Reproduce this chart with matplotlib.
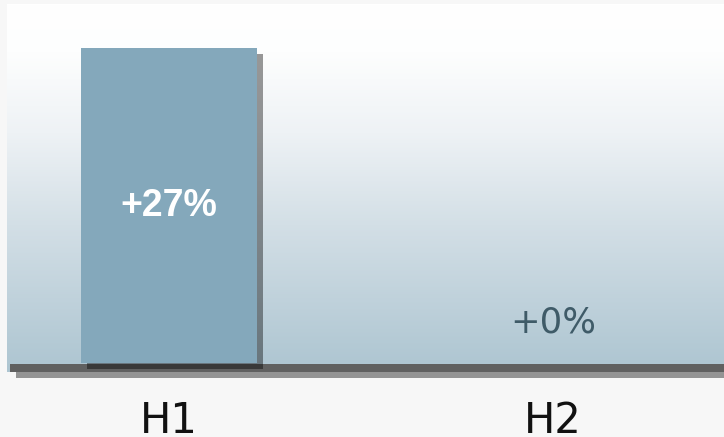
import numpy as np
import matplotlib
matplotlib.use("Agg")
import matplotlib.pyplot as plt
import matplotlib.patheffects as pe
from matplotlib.colors import LinearSegmentedColormap

# half-year growth
periods = ["H1", "H2"]
growth = [27, 0]
labels = ["+27%", "+0%"]

W, H = 724, 437
fig = plt.figure(figsize=(W / 100, H / 100), dpi=100, facecolor="#f7f7f7")
ax = fig.add_axes([7 / W, (H - 372) / H, 717 / W, 368 / H])

# data limits : category spacing 384 px, 27 units = 315 px
xlim = (-162 / 384, 555 / 384)
ylim = (-9 * 27 / 315, 359 * 27 / 315)

# background gradient white (top) -> pale blue (bottom)
grad = LinearSegmentedColormap.from_list(
    "bg", [(0, "#ffffff"), (0.13, "#fdfefe"), (0.35, "#eef2f5"),
           (0.6, "#d3dfe6"), (1, "#adc5d1")])
g = np.linspace(1, 0, 256).reshape(-1, 1)
ax.imshow(g, cmap=grad, aspect="auto", extent=(xlim[0], xlim[1], ylim[0], ylim[1]),
          origin="lower", zorder=0)
ax.set_xlim(*xlim)
ax.set_ylim(*ylim)

shadow = [pe.SimplePatchShadow(offset=(4.3, -4.3), shadow_rgbFace="k", alpha=0.4), pe.Normal()]

# dark floor under the bars
floor = plt.Rectangle((-159 / 384, -9 * 27 / 315), 2.0, 8 * 27 / 315, facecolor="#606060",
                      edgecolor="none", zorder=1, clip_on=False)
floor.set_path_effects(shadow)
ax.add_patch(floor)

x = np.arange(len(periods))
bars = ax.bar(x, growth, width=176 / 384, color="#84a8bb", zorder=2)
for b in bars:
    b.set_path_effects(shadow)

for xi, v, lab in zip(x, growth, labels):
    if v > 5:
        ax.text(xi, v / 2, lab, ha="center", va="center", color="white", fontsize=27,
                fontweight="bold", family="Liberation Sans", zorder=3)
    else:
        ax.text(xi, v + 3.5, lab, ha="center", va="center", color="#3f5b68", fontsize=25.5,
                family="DejaVu Sans", zorder=3)

ax.set_xticks(x)
ax.set_xticklabels(periods, fontsize=30, color="#111111")
ax.tick_params(axis="x", length=0, pad=20)
ax.set_yticks([])
for s in ax.spines.values():
    s.set_visible(False)

fig.savefig("out.png", dpi=100, facecolor="#f7f7f7")
